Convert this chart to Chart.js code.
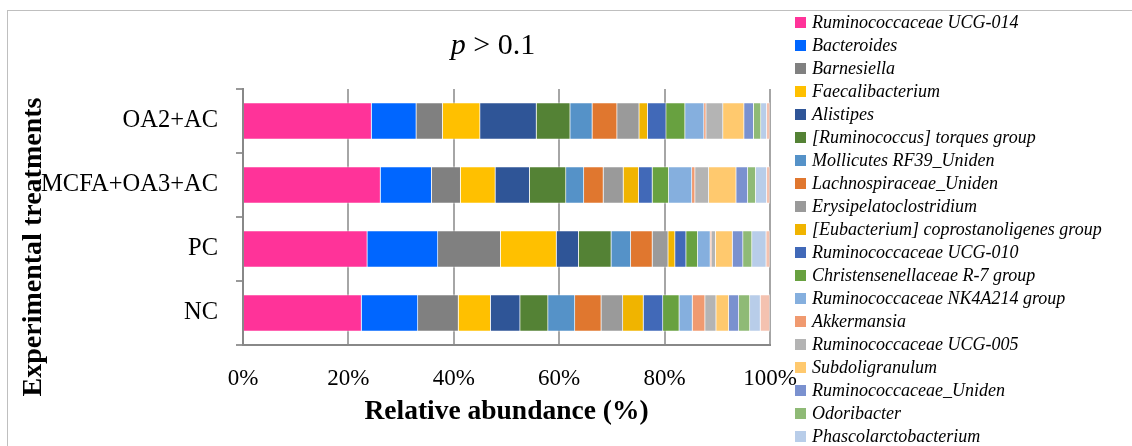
<!DOCTYPE html>
<html>
<head>
<meta charset="utf-8">
<script src="https://cdn.jsdelivr.net/npm/chart.js@4.4.1/dist/chart.umd.min.js"></script>
<style>
html,body{margin:0;padding:0;background:#fff;}
canvas{display:block;}
</style>
</head>
<body>
<canvas id="c" width="1132" height="446"></canvas>
<script>
const categories = ['OA2+AC', 'MCFA+OA3+AC', 'PC', 'NC'];
const seriesNames = [
  'Ruminococcaceae UCG-014', 'Bacteroides', 'Barnesiella', 'Faecalibacterium',
  'Alistipes', '[Ruminococcus] torques group', 'Mollicutes RF39_Uniden',
  'Lachnospiraceae_Uniden', 'Erysipelatoclostridium', '[Eubacterium] coprostanoligenes group',
  'Ruminococcaceae UCG-010', 'Christensenellaceae R-7 group', 'Ruminococcaceae NK4A214 group',
  'Akkermansia', 'Ruminococcaceae UCG-005', 'Subdoligranulum', 'Ruminococcaceae_Uniden',
  'Odoribacter', 'Phascolarctobacterium', 'Others'
];
const seriesColors = [
  '#FF3399', '#0066FF', '#808080', '#FFC000', '#2F5597', '#548235', '#5592C8',
  '#E0772F', '#9A9A9A', '#F0B400', '#4169B8', '#68A140', '#85AFDE', '#F09A70',
  '#B4B4B4', '#FFC96E', '#7A91CF', '#8FBA76', '#B8CDE9', '#F4C2B0'
];
// relative abundance (%) per treatment, in series order
const valuesOA2AC  = [24.4, 8.5, 5.0, 7.1, 10.7, 6.4, 4.2, 4.7, 4.2, 1.6, 3.5, 3.6, 3.6, 0.4, 3.2, 4.0, 1.8, 1.4, 1.1, 0.6];
const valuesMCFA   = [26.1, 9.7, 5.5, 6.6, 6.5, 6.9, 3.4, 3.7, 3.8, 2.9, 2.6, 3.1, 4.4, 0.6, 2.6, 5.2, 2.2, 1.5, 2.1, 0.6];
const valuesPC     = [23.6, 13.4, 11.9, 10.6, 4.2, 6.2, 3.7, 4.1, 3.0, 1.3, 2.1, 2.2, 2.4, 0.2, 0.8, 3.2, 2.0, 1.7, 2.7, 0.7];
const valuesNC     = [22.5, 10.7, 7.7, 6.1, 5.6, 5.3, 5.1, 5.0, 4.1, 3.9, 3.7, 3.1, 2.5, 2.4, 2.1, 2.4, 1.9, 2.1, 2.0, 1.8];
const xTicks = [0, 20, 40, 60, 80, 100];
const yTitle = 'Experimental treatments';
const legendCount = 19; // entries visible in the legend

const rows = [valuesOA2AC, valuesMCFA, valuesPC, valuesNC];
const datasets = seriesNames.map((name, i) => ({
  label: name,
  data: rows.map(r => r[i]),
  backgroundColor: seriesColors[i],
  borderColor: 'rgba(255,255,255,0.45)',
  borderWidth: 1,
  barThickness: 37
}));

const SERIF = '"Liberation Serif", "Times New Roman", serif';

const decor = {
  id: 'decor',
  beforeDraw(chart) {
    const ctx = chart.ctx;
    ctx.save();
    ctx.fillStyle = '#fff';
    ctx.fillRect(0, 0, chart.width, chart.height);
    ctx.strokeStyle = '#BFBFBF';
    ctx.lineWidth = 1;
    ctx.strokeRect(7.5, 10.5, 1300, 600);
    ctx.restore();
  },
  afterDraw(chart) {
    const ctx = chart.ctx;
    ctx.save();
    // title: italic p, then " > 0.1"
    ctx.fillStyle = '#000';
    ctx.textBaseline = 'middle';
    const f1 = 'italic 30px ' + SERIF;
    const f2 = '30px ' + SERIF;
    ctx.font = f1; const w1 = ctx.measureText('p').width;
    ctx.font = f2; const w2 = ctx.measureText(' > 0.1').width;
    let x = 493 - (w1 + w2) / 2;
    ctx.font = f1; ctx.fillText('p', x, 46);
    ctx.font = f2; ctx.fillText(' > 0.1', x + w1, 46);
    // y axis title
    ctx.save();
    ctx.translate(34, 247);
    ctx.rotate(-Math.PI / 2);
    ctx.textAlign = 'center';
    ctx.font = 'bold 28px ' + SERIF;
    ctx.fillText(yTitle, 0, 0);
    ctx.restore();
    // legend
    ctx.font = 'italic 18px ' + SERIF;
    ctx.textBaseline = 'middle';
    chart.data.datasets.slice(0, legendCount).forEach((ds, i) => {
      const cy = 22.5 + i * 23.0;
      ctx.fillStyle = ds.backgroundColor;
      ctx.fillRect(795, cy - 5.5, 11, 11);
      ctx.fillStyle = '#000';
      ctx.fillText(ds.label, 812, cy + 1);
    });
    ctx.restore();
  }
};

new Chart(document.getElementById('c'), {
  type: 'bar',
  data: { labels: categories, datasets },
  plugins: [decor],
  options: {
    indexAxis: 'y',
    responsive: false,
    animation: false,
    layout: { padding: { left: 8, right: 362, top: 89, bottom: 0 } },
    plugins: { legend: { display: false }, title: { display: false }, tooltip: { enabled: false } },
    scales: {
      x: {
        stacked: true,
        min: 0, max: 100,
        afterBuildTicks(scale) { scale.ticks = xTicks.map(v => ({ value: v })); },
        afterFit(scale) { scale.height = 101; },
        ticks: {
          callback: v => v + '%',
          color: '#000',
          font: { family: SERIF, size: 23 },
          padding: 20,
          maxRotation: 0
        },
        grid: { color: '#A6A6A6', lineWidth: 2, drawTicks: false },
        border: { display: true, color: '#888888', width: 2 },
        title: {
          display: true,
          text: 'Relative abundance (%)',
          color: '#000',
          font: { family: SERIF, size: 27.5, weight: 'bold' },
          padding: { top: 0, bottom: 18 }
        }
      },
      y: {
        stacked: true,
        afterFit(scale) { scale.width = 235; },
        ticks: {
          color: '#000',
          font: { family: SERIF, size: 24.5 },
          padding: 18
        },
        grid: { drawOnChartArea: false, drawTicks: true, tickLength: 7, color: '#999999', lineWidth: 2, offset: true },
        border: { display: true, color: '#888888', width: 2 },
        title: { display: false }
      }
    }
  }
});
</script>
</body>
</html>
